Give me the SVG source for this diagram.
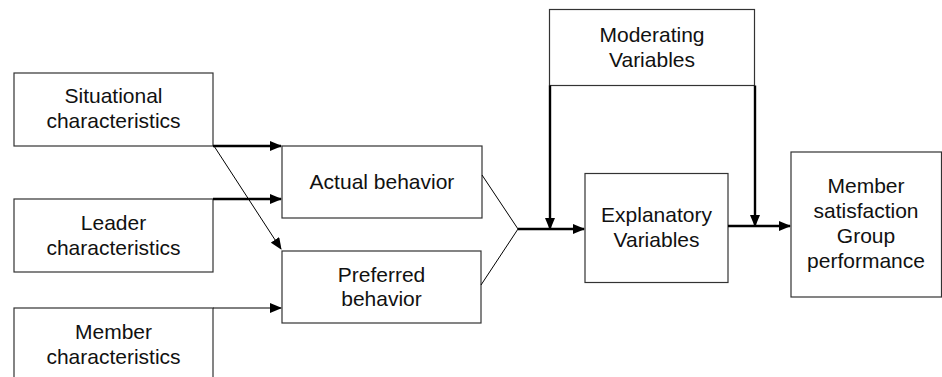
<svg xmlns="http://www.w3.org/2000/svg" width="942" height="377" viewBox="0 0 942 377">
<style>
.box{fill:#fff;stroke:#333;stroke-width:1.2}
.t{font-family:"Liberation Sans",Arial,sans-serif;font-size:21px;fill:#111;text-anchor:middle}
.thick{fill:none;stroke:#000;stroke-width:2.4}
.thin{fill:none;stroke:#000;stroke-width:1}
</style>
<defs>
<marker id="ah" markerUnits="userSpaceOnUse" markerWidth="12" markerHeight="10" refX="11" refY="5" orient="auto">
<path d="M0,0 L12,5 L0,10 Z" fill="#000"/>
</marker>
</defs>
<rect width="942" height="377" fill="#fff"/>
<g id="situational"><rect class="box" x="14" y="73" width="199" height="73"/><text class="t" x="113.5" y="103">Situational</text><text class="t" x="113.5" y="128">characteristics</text></g>
<g id="leader"><rect class="box" x="14" y="199" width="199" height="73"/><text class="t" x="113.5" y="230">Leader</text><text class="t" x="113.5" y="255">characteristics</text></g>
<g id="member"><rect class="box" x="14" y="308" width="199" height="90"/><text class="t" x="113.5" y="339">Member</text><text class="t" x="113.5" y="364">characteristics</text></g>
<g id="actual"><rect class="box" x="282" y="146" width="200" height="72"/><text class="t" x="382" y="189">Actual behavior</text></g>
<g id="preferred"><rect class="box" x="282" y="251" width="199" height="72"/><text class="t" x="381.5" y="282">Preferred</text><text class="t" x="381.5" y="306">behavior</text></g>
<g id="moderating"><rect class="box" x="549.5" y="9.5" width="205" height="76"/><text class="t" x="652" y="42">Moderating</text><text class="t" x="652" y="67">Variables</text></g>
<g id="explanatory"><rect class="box" x="585" y="173.5" width="143" height="109"/><text class="t" x="656.5" y="222">Explanatory</text><text class="t" x="656.5" y="247">Variables</text></g>
<g id="outcome"><rect class="box" x="791" y="152" width="150.5" height="145"/><text class="t" x="866" y="193">Member</text><text class="t" x="866" y="218">satisfaction</text><text class="t" x="866" y="243">Group</text><text class="t" x="866" y="268">performance</text></g>
<g id="connectors">
<path class="thick" d="M213,146 H281" marker-end="url(#ah)"/>
<path class="thick" d="M213,199 H281" marker-end="url(#ah)"/>
<path class="thin" d="M214,146 L281,249" marker-end="url(#ah)"/>
<path class="thin" d="M213,308 H281" marker-end="url(#ah)"/>
<path class="thin" d="M482,175 L518,229 L481,285"/>
<path class="thick" d="M518,229 H584" marker-end="url(#ah)"/>
<path class="thick" d="M550,85.5 V229" marker-end="url(#ah)"/>
<path class="thick" d="M755,85.5 V226" marker-end="url(#ah)"/>
<path class="thick" d="M728,226 H790" marker-end="url(#ah)"/>
</g>
</svg>
